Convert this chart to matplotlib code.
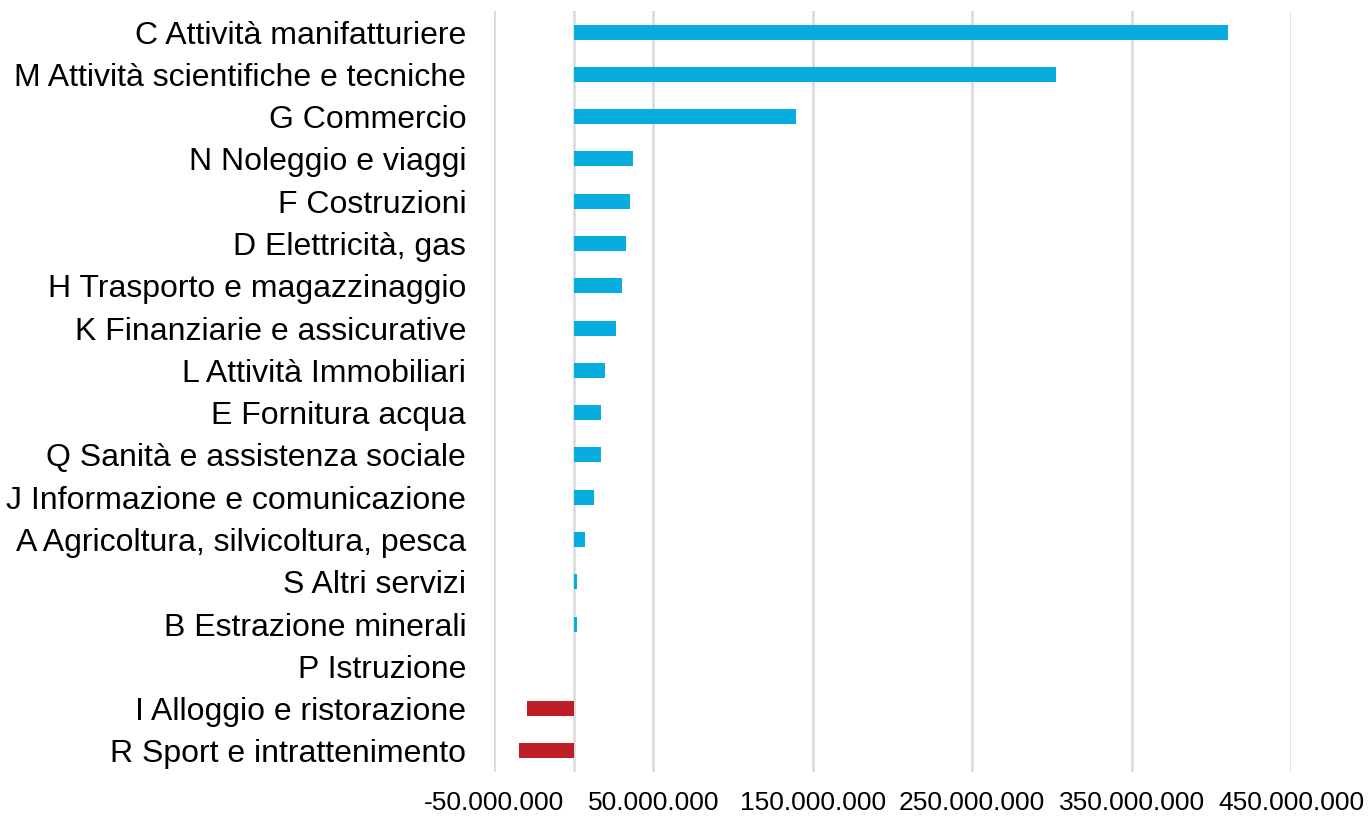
import matplotlib
matplotlib.use("Agg")
import matplotlib.pyplot as plt
from matplotlib.ticker import FuncFormatter

plt.rcParams['font.family'] = ['Liberation Sans', 'DejaVu Sans']

categories = [
    "C Attività manifatturiere",
    "M Attività scientifiche e tecniche",
    "G Commercio",
    "N Noleggio e viaggi",
    "F Costruzioni",
    "D Elettricità, gas",
    "H Trasporto e magazzinaggio",
    "K Finanziarie e assicurative",
    "L Attività Immobiliari",
    "E Fornitura acqua",
    "Q Sanità e assistenza sociale",
    "J Informazione e comunicazione",
    "A Agricoltura, silvicoltura, pesca",
    "S Altri servizi",
    "B Estrazione minerali",
    "P Istruzione",
    "I Alloggio e ristorazione",
    "R Sport e intrattenimento",
]
values = [410.5e6, 302.3e6, 139.2e6, 37.1e6, 35.2e6, 33.0e6, 30.0e6, 26.4e6,
          19.5e6, 17.0e6, 17.0e6, 12.6e6, 7.2e6, 2.1e6, 2.1e6, 0.0,
          -29.1e6, -34.2e6]
tick_values = [-50e6, 50e6, 150e6, 250e6, 350e6, 450e6]

BLUE = "#08ADE0"
RED = "#BE1E26"
GRID = "#D9D9D9"

fig = plt.figure(figsize=(13.68, 8.16), dpi=100)
ax = fig.add_axes([0.3611, 0.0539, 0.5826, 0.9326])

ypos = list(range(len(categories)))
colors = [BLUE if v >= 0 else RED for v in values]
ax.barh(ypos, values, height=0.355, color=colors, zorder=3)

ax.set_xlim(-50e6, 450e6)
ax.set_ylim(len(categories) - 0.5, -0.5)
ax.set_xticks(tick_values)
ax.xaxis.set_major_formatter(FuncFormatter(lambda v, p: f"{int(round(v)):,}".replace(",", ".")))
ax.set_yticks(ypos)
ax.set_yticklabels(categories)

ax.grid(axis='x', color=GRID, linewidth=1.8, zorder=0)
ax.axvline(0, color=GRID, linewidth=1.8, zorder=1)
for s in ax.spines.values():
    s.set_visible(False)
ax.tick_params(axis='both', length=0, colors='black')
ax.tick_params(axis='x', labelsize=19, pad=14)
ax.tick_params(axis='y', labelsize=23, pad=20)

fig.savefig("out.png", dpi=100)
